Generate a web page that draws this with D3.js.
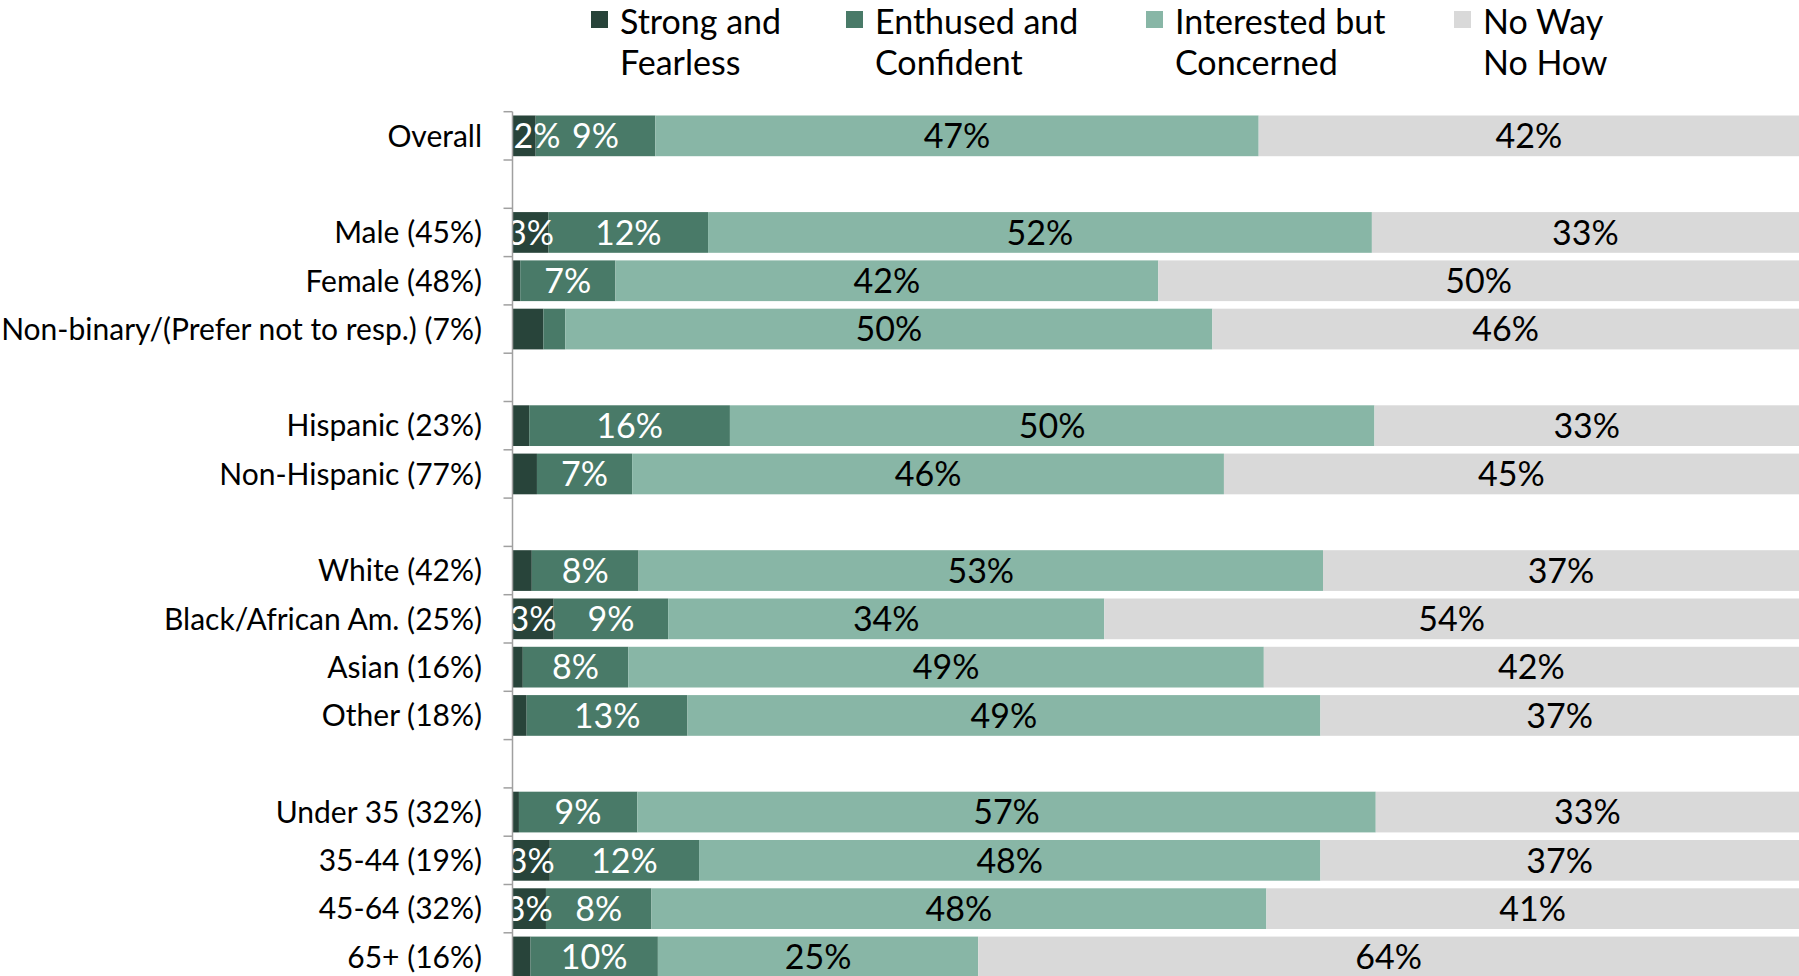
<!DOCTYPE html>
<html>
<head>
<meta charset="utf-8">
<script src="https://cdn.jsdelivr.net/npm/d3@7/dist/d3.min.js"></script>
<style>
  html, body { margin: 0; padding: 0; background: #ffffff; overflow: hidden; }
  svg { display: block; }
</style>
</head>
<body>
<svg id="chart" width="1799" height="976"></svg>
<script>
// ---------------- DATA ----------------
const categories = [
  "Overall", "",
  "Male (45%)", "Female (48%)", "Non-binary/(Prefer not to resp.) (7%)", "",
  "Hispanic (23%)", "Non-Hispanic (77%)", "",
  "White (42%)", "Black/African Am. (25%)", "Asian (16%)", "Other (18%)", "",
  "Under 35 (32%)", "35-44 (19%)", "45-64 (32%)", "65+ (16%)"
];

const seriesNames = ["Strong and Fearless", "Enthused and Confident", "Interested but Concerned", "No Way No How"];
const legendLines = [["Strong and", "Fearless"], ["Enthused and", "Confident"], ["Interested but", "Concerned"], ["No Way", "No How"]];

const strongFearless      = [1.8, null, 2.8, 0.6, 2.4, null, 1.3, 1.9, null, 1.5, 3.2, 0.8, 1.1, null, 0.5, 2.9, 2.6, 1.4];
const enthusedConfident   = [9.3, null, 12.4, 7.4, 1.7, null, 15.6, 7.4, null, 8.3, 8.9, 8.2, 12.5, null, 9.2, 11.6, 8.2, 9.9];
const interestedConcerned = [46.9, null, 51.6, 42.2, 50.3, null, 50.1, 46.0, null, 53.2, 33.9, 49.4, 49.2, null, 57.4, 48.3, 47.8, 24.9];
const noWayNoHow          = [42.0, null, 33.2, 49.8, 45.6, null, 33.0, 44.7, null, 37.0, 54.0, 41.6, 37.2, null, 32.9, 37.2, 41.4, 63.8];

// which data labels are shown (the reference omits some small-segment labels)
const showStrong   = [true, false, true, false, false, false, false, false, false, false, true, false, false, false, false, true, true, false];
const showEnthused = [true, false, true, true, false, false, true, true, false, true, true, true, true, false, true, true, true, true];
const showInterested = categories.map(c => c !== "");
const showNoWay      = categories.map(c => c !== "");

const seriesValues = [strongFearless, enthusedConfident, interestedConcerned, noWayNoHow];
const seriesShow   = [showStrong, showEnthused, showInterested, showNoWay];
const colors      = ["#28443a", "#497a68", "#88b6a6", "#d9d9d9"];
const labelColors = ["#ffffff", "#ffffff", "#000000", "#000000"];

// ---------------- LAYOUT ----------------
const FONT = "Lato, 'Open Sans', sans-serif";
const svg = d3.select("#chart");
const W = 1799, H = 976;
const x0 = 512.5, x1 = 1799;
const yTop = 111.7, step = 48.3;

const x = d3.scaleLinear().domain([0, 100]).range([x0, x1]);
const idx = d3.range(categories.length);
const y = d3.scaleBand().domain(idx)
  .range([yTop, yTop + step * categories.length])
  .paddingInner(0.157).paddingOuter(0.0785);

// stacked data
const rows = idx.map(i => {
  const r = { i };
  seriesValues.forEach((arr, k) => r["s" + k] = arr[i]);
  return r;
}).filter(r => r.s0 !== null);
const stack = d3.stack().keys(d3.range(4).map(k => "s" + k));
const stacked = stack(rows);

svg.append("defs").append("clipPath").attr("id", "plotClip")
  .append("rect").attr("x", x0).attr("y", 0).attr("width", x1 - x0).attr("height", H);

const plot = svg.append("g").attr("clip-path", "url(#plotClip)");

// bars
stacked.forEach((layer, k) => {
  plot.append("g").selectAll("rect").data(layer).join("rect")
    .attr("x", d => x(d[0]))
    .attr("y", d => y(d.data.i))
    .attr("width", d => x(d[1]) - x(d[0]))
    .attr("height", y.bandwidth())
    .attr("fill", colors[k]);
});

// data labels
const labelSize = 34;
stacked.forEach((layer, k) => {
  const g = plot.append("g");
  layer.forEach(d => {
    if (!seriesShow[k][d.data.i]) return;
    const v = seriesValues[k][d.data.i];
    const cx = (x(d[0]) + x(d[1])) / 2;
    const t = g.append("text")
      .attr("x", cx)
      .attr("y", y(d.data.i) + y.bandwidth() / 2)
      .attr("dy", "0.36em")
      .attr("text-anchor", "middle")
      .attr("font-family", FONT)
      .attr("font-size", labelSize)
      .attr("fill", labelColors[k])
      .text(Math.round(v) + "%");
    const w = t.node().getComputedTextLength();
    if (cx - w / 2 < x0 - 8) t.attr("x", x0 + 1 + w / 2);
  });
});

// category axis
const axisG = svg.append("g");
axisG.append("line")
  .attr("x1", x0).attr("x2", x0)
  .attr("y1", yTop).attr("y2", H)
  .attr("stroke", "#a0a0a0").attr("stroke-width", 1.5);
d3.range(categories.length + 1).forEach(i => {
  const yy = yTop + i * y.step();
  axisG.append("line")
    .attr("x1", x0 - 9).attr("x2", x0)
    .attr("y1", yy).attr("y2", yy)
    .attr("stroke", "#a0a0a0").attr("stroke-width", 1.5);
});
const yAxis = d3.axisLeft(y).tickSize(0).tickPadding(x0 - 482).tickFormat(i => categories[i]);
const ax = svg.append("g").attr("transform", `translate(${x0},0)`).call(yAxis);
ax.select(".domain").remove();
ax.selectAll("text")
  .attr("font-family", FONT)
  .attr("font-size", 30)
  .attr("fill", "#000")
  .attr("dy", "0.36em");

// legend
const legendX = [591, 846, 1146, 1454];
const legendSize = 34;
const legend = svg.append("g");
legendLines.forEach((lines, k) => {
  legend.append("rect")
    .attr("x", legendX[k]).attr("y", 11)
    .attr("width", 17).attr("height", 17)
    .attr("fill", colors[k]);
  lines.forEach((ln, j) => {
    legend.append("text")
      .attr("x", legendX[k] + 29)
      .attr("y", j === 0 ? 34 : 75)
      .attr("font-family", FONT)
      .attr("font-size", legendSize)
      .attr("fill", "#000")
      .text(ln);
  });
});
</script>
</body>
</html>
